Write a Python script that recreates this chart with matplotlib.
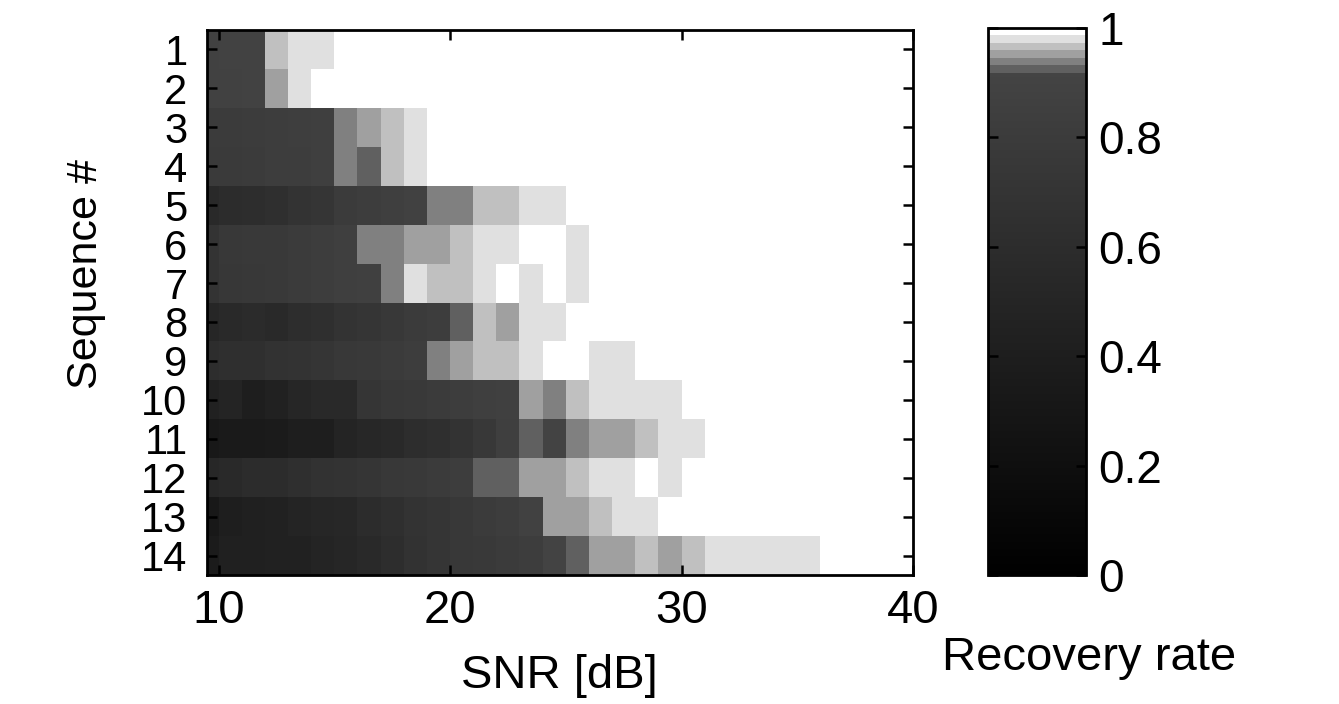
import numpy as np
import matplotlib
matplotlib.use("Agg")
import matplotlib.pyplot as plt
from matplotlib.colors import ListedColormap

plt.rcParams['font.family'] = ['Liberation Sans', 'DejaVu Sans']

# SNR cell edges [dB] and sequence numbers
snr_edges = list(range(9, 41))
sequences = list(range(1, 15))

# Recovery rate per sequence (rows) and SNR cell (columns, cell k spans [9+k, 10+k] dB)
seq1 = [0.88, 0.89, 0.89, 0.966, 0.98, 0.98, 1, 1, 1, 1, 1, 1, 1, 1, 1, 1, 1, 1, 1, 1, 1, 1, 1, 1, 1, 1, 1, 1, 1, 1, 1]
seq2 = [0.88, 0.88, 0.89, 0.952, 0.98, 1, 1, 1, 1, 1, 1, 1, 1, 1, 1, 1, 1, 1, 1, 1, 1, 1, 1, 1, 1, 1, 1, 1, 1, 1, 1]
seq3 = [0.80, 0.80, 0.81, 0.82, 0.84, 0.85, 0.938, 0.952, 0.966, 0.98, 1, 1, 1, 1, 1, 1, 1, 1, 1, 1, 1, 1, 1, 1, 1, 1, 1, 1, 1, 1, 1]
seq4 = [0.78, 0.79, 0.80, 0.82, 0.83, 0.85, 0.938, 0.925, 0.966, 0.98, 1, 1, 1, 1, 1, 1, 1, 1, 1, 1, 1, 1, 1, 1, 1, 1, 1, 1, 1, 1, 1]
seq5 = [0.56, 0.59, 0.61, 0.64, 0.69, 0.72, 0.80, 0.83, 0.85, 0.88, 0.938, 0.938, 0.966, 0.966, 0.98, 0.98, 1, 1, 1, 1, 1, 1, 1, 1, 1, 1, 1, 1, 1, 1, 1]
seq6 = [0.69, 0.75, 0.77, 0.77, 0.80, 0.83, 0.85, 0.938, 0.938, 0.952, 0.952, 0.966, 0.98, 0.98, 1, 1, 0.98, 1, 1, 1, 1, 1, 1, 1, 1, 1, 1, 1, 1, 1, 1]
seq7 = [0.69, 0.74, 0.75, 0.77, 0.80, 0.83, 0.85, 0.87, 0.938, 0.98, 0.966, 0.966, 0.98, 1, 0.98, 1, 0.98, 1, 1, 1, 1, 1, 1, 1, 1, 1, 1, 1, 1, 1, 1]
seq8 = [0.51, 0.56, 0.58, 0.56, 0.61, 0.64, 0.69, 0.72, 0.75, 0.80, 0.83, 0.925, 0.966, 0.952, 0.98, 0.98, 1, 1, 1, 1, 1, 1, 1, 1, 1, 1, 1, 1, 1, 1, 1]
seq9 = [0.61, 0.64, 0.64, 0.67, 0.69, 0.72, 0.75, 0.77, 0.80, 0.83, 0.938, 0.952, 0.966, 0.966, 0.98, 1, 1, 0.98, 0.98, 1, 1, 1, 1, 1, 1, 1, 1, 1, 1, 1, 1]
seq10 = [0.45, 0.48, 0.40, 0.45, 0.51, 0.56, 0.56, 0.72, 0.75, 0.77, 0.80, 0.83, 0.85, 0.86, 0.952, 0.938, 0.966, 0.98, 0.98, 0.98, 0.98, 1, 1, 1, 1, 1, 1, 1, 1, 1, 1]
seq11 = [0.32, 0.35, 0.35, 0.37, 0.40, 0.40, 0.48, 0.53, 0.56, 0.61, 0.64, 0.69, 0.75, 0.85, 0.925, 0.91, 0.938, 0.952, 0.952, 0.966, 0.98, 0.98, 1, 1, 1, 1, 1, 1, 1, 1, 1]
seq12 = [0.53, 0.56, 0.59, 0.59, 0.64, 0.67, 0.69, 0.72, 0.75, 0.77, 0.80, 0.83, 0.925, 0.925, 0.952, 0.952, 0.966, 0.98, 0.98, 1, 0.98, 1, 1, 1, 1, 1, 1, 1, 1, 1, 1]
seq13 = [0.32, 0.40, 0.43, 0.45, 0.48, 0.51, 0.53, 0.59, 0.64, 0.69, 0.72, 0.75, 0.80, 0.83, 0.88, 0.952, 0.952, 0.966, 0.98, 0.98, 1, 1, 1, 1, 1, 1, 1, 1, 1, 1, 1]
seq14 = [0.37, 0.43, 0.43, 0.45, 0.45, 0.48, 0.51, 0.56, 0.61, 0.67, 0.72, 0.75, 0.77, 0.80, 0.83, 0.91, 0.925, 0.952, 0.952, 0.966, 0.952, 0.966, 0.98, 0.98, 0.98, 0.98, 0.98, 1, 1, 1, 1]

rates = np.array([seq1, seq2, seq3, seq4, seq5, seq6, seq7, seq8, seq9, seq10,
                  seq11, seq12, seq13, seq14], dtype=float)

cbar_ticks = [0, 0.2, 0.4, 0.6, 0.8, 1]
cbar_ticklabels = ["0", "0.2", "0.4", "0.6", "0.8", "1"]
x_ticks = [10, 20, 30, 40]

# Colormap: dark gradient up to ~0.918, then stepped light greys near 1
N = 1024
vals = (np.arange(N) + 0.5) / N
g = np.empty(N)
for i, v in enumerate(vals):
    if v >= 0.986:
        g[i] = 1.0
    elif v >= 0.973:
        g[i] = 0xe0 / 255
    elif v >= 0.959:
        g[i] = 0xc0 / 255
    elif v >= 0.945:
        g[i] = 0xa0 / 255
    elif v >= 0.932:
        g[i] = 0x80 / 255
    elif v >= 0.918:
        g[i] = 0x60 / 255
    else:
        g[i] = (0x44 / 255) * v / 0.918
cmap = ListedColormap(np.stack([g, g, g], axis=1))

W, H = 1339, 704
fig = plt.figure(figsize=(W / 100, H / 100), dpi=100)
ax = fig.add_axes([207 / W, 1 - 575 / H, 706 / W, 545 / H])
cax = fig.add_axes([988 / W, 1 - 575 / H, 98 / W, 547 / H])

y_edges = np.arange(0.5, len(sequences) + 1, 1.0)
mesh = ax.pcolormesh(snr_edges, y_edges, rates, cmap=cmap, vmin=0, vmax=1,
                     shading='flat')
ax.set_xlim(9.5, 40)
ax.set_ylim(len(sequences) + 0.5, 0.5)
ax.set_xticks(x_ticks)
ax.set_xticklabels([str(t) for t in x_ticks])
ax.set_yticks(sequences)
ax.set_yticklabels([str(s) for s in sequences])
ax.tick_params(direction='in', length=7, width=1.8, top=True, right=True,
               colors='black')
ax.tick_params(axis='y', pad=14, labelsize=30)
ax.tick_params(axis='x', pad=10, labelsize=34)
for s in ax.spines.values():
    s.set_linewidth(2)

cb = fig.colorbar(mesh, cax=cax, ticks=cbar_ticks)
cb.set_ticklabels(cbar_ticklabels)
cb.outline.set_linewidth(2)
cax.tick_params(direction='in', length=7, width=1.8, left=True, right=True,
                labelsize=33, pad=9)

fig.text(86 / W, 1 - 274 / H, "Sequence #", rotation=90, ha='center',
         va='center', fontsize=31)
fig.text(559 / W, 1 - 688 / H, "SNR [dB]", ha='center', va='baseline',
         fontsize=34)
fig.text(942 / W, 1 - 670 / H, "Recovery rate", ha='left', va='baseline',
         fontsize=34)

fig.savefig("out.png", dpi=100, facecolor='white')
